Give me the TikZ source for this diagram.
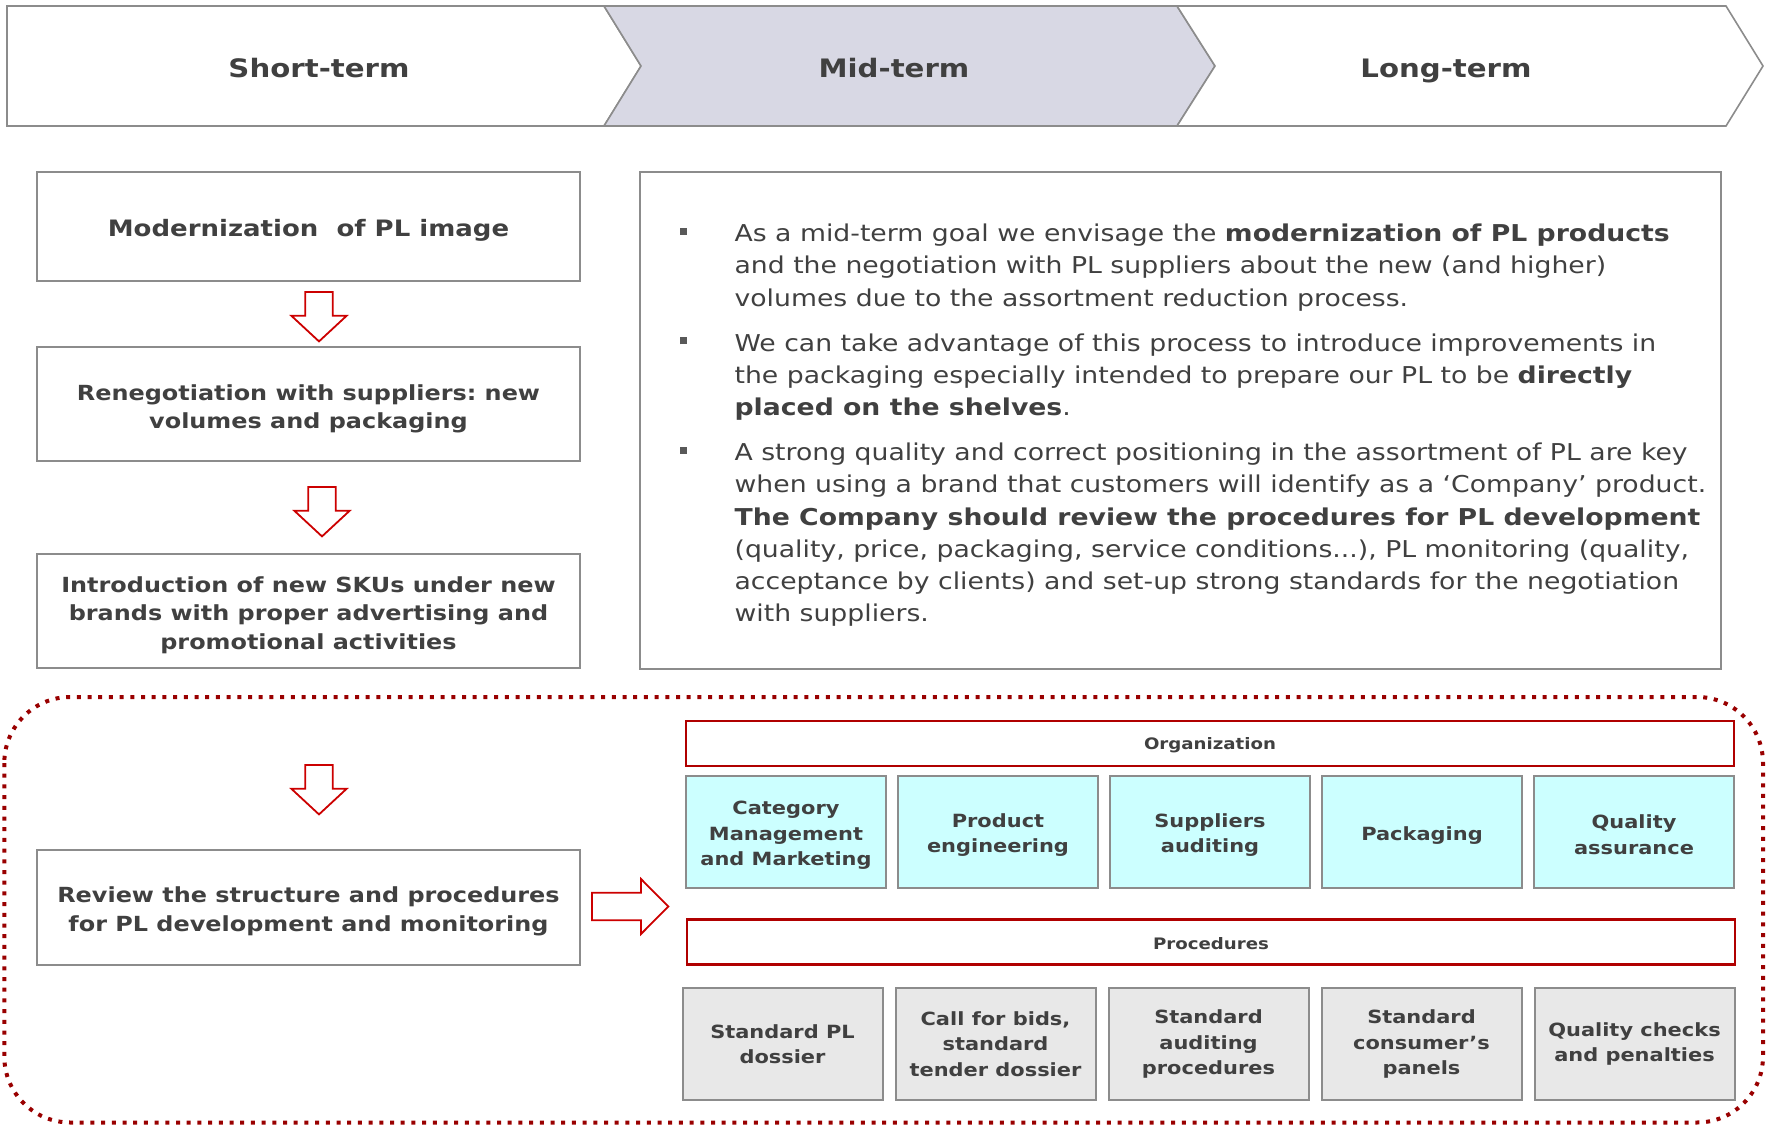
\documentclass[tikz,border=0pt]{standalone}
\usepackage{fontspec}
\setmainfont{DejaVu Sans}[FakeStretch=1.15]
\usepackage{tikz}
\usetikzlibrary{positioning}
\frenchspacing

\definecolor{txtgray}{HTML}{404040}
\definecolor{linegray}{HTML}{8C8C8C}
\definecolor{midfill}{HTML}{D8D8E4}
\definecolor{arrowred}{HTML}{CC0000}
\definecolor{barred}{HTML}{B00000}
\definecolor{framered}{HTML}{990000}
\definecolor{orgcyan}{HTML}{CCFFFF}
\definecolor{procgray}{HTML}{E8E8E8}
\definecolor{bulletgray}{HTML}{595959}

\newcommand{\goalbullet}{\llap{\textcolor{bulletgray}{\rule[3.4pt]{3.5pt}{3.5pt}}\hspace{23.75pt}}}
\newcommand{\topstrut}[1][1.12em]{\rule{0pt}{#1}}
\newcommand{\downarrowblock}[2]{\draw[blockarrow] (#1-13.8,#2) -- ++(27.6,0) -- ++(0,23.7) -- ++(13.9,0) -- (#1,#2+49.4) -- (#1-27.7,#2+23.7) -- ++(13.9,0) -- cycle;}

\begin{document}
\begin{tikzpicture}[x=0.5pt,y=-0.5pt,semithick]
		\tikzstyle{every node}=[text=txtgray]
		\tikzstyle{banner}=[draw=linegray,line width=0.8pt,fill=white]
		\tikzstyle{phase}=[anchor=base,font=\fontsize{12.7}{15}\selectfont\bfseries]
		\tikzstyle{stepbox}=[draw=linegray,line width=1pt,align=center,inner sep=0pt,minimum width=271.5pt,font=\fontsize{10.4}{14.4}\selectfont\bfseries]
		\tikzstyle{goals}=[align=left,inner sep=0pt,font=\fontsize{11.6}{16.1}\selectfont]
		\tikzstyle{bar}=[draw=barred,line width=1.1pt,minimum width=524pt,minimum height=22.5pt,inner sep=0pt,font=\fontsize{7.9}{9}\selectfont\bfseries]
		\tikzstyle{smallbox}=[draw=linegray,line width=1pt,minimum width=100pt,minimum height=56pt,align=center,inner sep=0pt,font=\fontsize{9.1}{12.7}\selectfont\bfseries]
		\tikzstyle{orgbox}=[smallbox,fill=orgcyan]
		\tikzstyle{procbox}=[smallbox,fill=procgray]
		\tikzstyle{blockarrow}=[draw=arrowred,line width=0.9pt,fill=white]
		\useasboundingbox (0,0) rectangle (1769,1125);
		\draw[framered,line width=2pt,dash pattern=on 2pt off 3.35pt,rounded corners=33pt] (4.3,697) rectangle (1763,1122.5);
		\draw[banner] (7,6) -- (604,6) -- (641,66) -- (604,126) -- (7,126) -- cycle;
		\draw[banner,fill=midfill] (604,6) -- (1177,6) -- (1215,66) -- (1177,126) -- (604,126) -- (641,66) -- cycle;
		\draw[banner] (1177,6) -- (1726,6) -- (1763,66) -- (1726,126) -- (1177,126) -- (1215,66) -- cycle;
		\node[phase]    (short)   at (319,77)    {Short-term};
		\node[phase]    (mid)     at (894,77)    {Mid-term};
		\node[phase]    (long)    at (1446,77)   {Long-term};
		\node[stepbox,minimum height=54.75pt,font=\fontsize{11.3}{14.4}\selectfont\bfseries] (image) at (308.5,226.3) {\topstrut[1.08em]Modernization\ \ of PL image};
		\node[stepbox,minimum height=57.2pt] (reneg)  at (308.5,404.2) {\topstrut[1.2em]Renegotiation with suppliers: new\\volumes and packaging};
		\node[stepbox,minimum height=57pt]   (skus)   at (308.5,611)   {\topstrut[1.15em]Introduction of new SKUs under new\\brands with proper advertising and\\promotional activities};
		\node[stepbox,minimum height=57.5pt] (review) at (308.5,907)   {\topstrut[1.15em]Review the structure and procedures\\for PL development and monitoring};
		\downarrowblock{319}{292}
		\downarrowblock{322}{487}
		\downarrowblock{319}{765}
		\draw[blockarrow] (592,892.7) -- (641,892.7) -- (641,879) -- (668.3,906.5) -- (641,934) -- (641,920.3) -- (592,920.3) -- cycle;
		\node[draw=linegray,line width=1pt,minimum width=540.25pt,minimum height=248.75pt] (goalbox) at (1180.25,420.25) {};
		\node[goals,anchor=north west] (goals) at (734,223.4) {%
\goalbullet As a mid-term goal we envisage the \textbf{modernization of PL products}\\
and the negotiation with PL suppliers about the new (and higher)\\
volumes due to the assortment reduction process.\\[6.45pt]
\goalbullet We can take advantage of this process to introduce improvements in\\
the packaging especially intended to prepare our PL to be \textbf{directly}\\
\textbf{placed on the shelves}.\\[6.45pt]
\goalbullet A strong quality and correct positioning in the assortment of PL are key\\
when using a brand that customers will identify as a ‘Company’ product.\\
\textbf{The Company should review the procedures for PL development}\\
(quality, price, packaging, service conditions...), PL monitoring (quality,\\
acceptance by clients) and set-up strong standards for the negotiation\\
with suppliers.};
		\node[bar]      (org)     at (1210,743.5) {\topstrut[1em]Organization};
		\node[orgbox]   (catman)  at (786,832)    {\topstrut Category\\Management\\and Marketing};
		\node[orgbox]   (prodeng) [right=5pt of catman]  {\topstrut Product\\engineering};
		\node[orgbox]   (suppaud) [right=5pt of prodeng] {\topstrut Suppliers\\auditing};
		\node[orgbox]   (pack)    [right=5pt of suppaud] {\topstrut Packaging};
		\node[orgbox]   (qual)    [right=5pt of pack]    {\topstrut[1.05em]Quality\\assurance};
		\node[bar]      (proc)    at (1211,942)   {\topstrut[1em]Procedures};
		\node[procbox]  (dossier) at (782.5,1044) {Standard PL\\dossier};
		\node[procbox]  (bids)    [right=5.5pt of dossier] {Call for bids,\\standard\\tender dossier};
		\node[procbox]  (audit)   [right=5.5pt of bids]    {Standard\\auditing\\procedures};
		\node[procbox]  (panels)  [right=5.5pt of audit]   {Standard\\consumer’s\\panels};
		\node[procbox]  (checks)  [right=5.5pt of panels]  {Quality checks\\and penalties};
	\end{tikzpicture}
\end{document}
